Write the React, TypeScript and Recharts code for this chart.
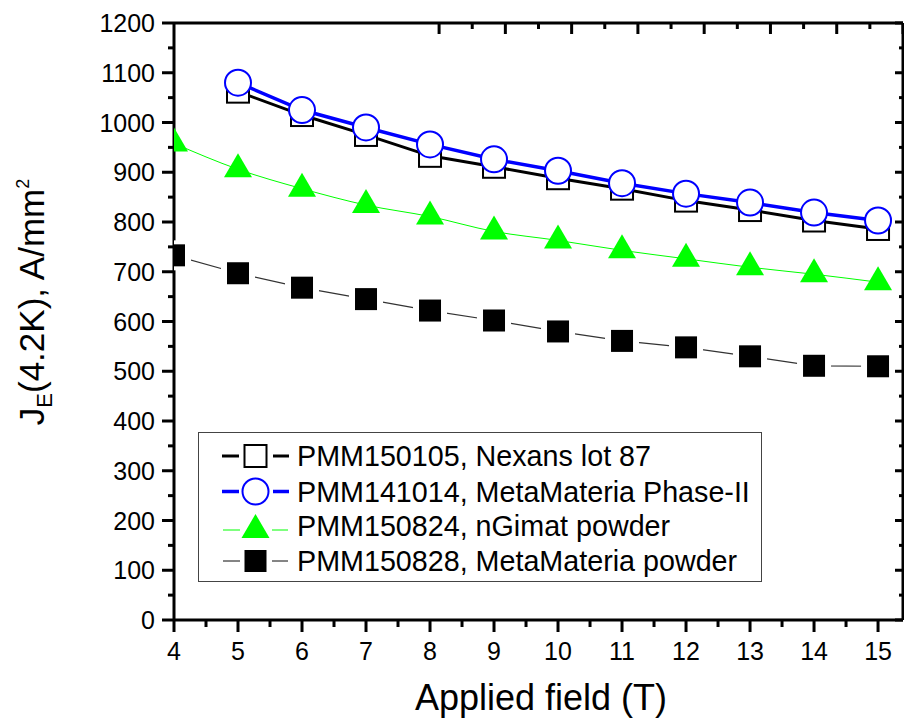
import React from 'react';
import { LineChart, Line, XAxis, YAxis, Legend } from 'recharts';

// ---- data ----
const fields = [4, 5, 6, 7, 8, 9, 10, 11, 12, 13, 14, 15];
const nexansLot87 = [null, 1062, 1015, 975, 933, 911, 888, 867, 843, 824, 803, 786];
const metaPhaseII = [null, 1080, 1025, 990, 956, 926, 903, 878, 857, 839, 819, 803];
const nGimatPowder = [958, 906, 867, 834, 811, 781, 763, 743, 726, 709, 695, 679];
const metaPowder = [733, 697, 668, 645, 622, 602, 580, 561, 548, 530, 511, 510];

const xMajorTicks = [4, 5, 6, 7, 8, 9, 10, 11, 12, 13, 14, 15];
const xMinorTicks = [4.5, 5.5, 6.5, 7.5, 8.5, 9.5, 10.5, 11.5, 12.5, 13.5, 14.5];
const yMajorTicks = [0, 100, 200, 300, 400, 500, 600, 700, 800, 900, 1000, 1100, 1200];
const yMinorTicks = [50, 150, 250, 350, 450, 550, 650, 750, 850, 950, 1050, 1150];

const seriesNames = [
  'PMM150105, Nexans lot 87',
  'PMM141014, MetaMateria Phase-II',
  'PMM150824, nGimat powder',
  'PMM150828, MetaMateria powder',
];

const xAxisTitle = 'Applied field (T)';
const X_MIN = 4;
const X_MAX = 15.39;

// layout constants
const CHART_W = 904;
const CHART_H = 719;
const LEFT_AXIS_W = 174;
const BOTTOM_AXIS_H = 99;
const TOP_MARGIN = 22;

const data = fields.map((f, i) => ({
  field: f,
  nexans: nexansLot87[i],
  phase2: metaPhaseII[i],
  ngimat: nGimatPowder[i],
  powder: metaPowder[i],
}));

const xTicks = [...xMajorTicks, ...xMinorTicks].sort((a, b) => a - b);
const yTicks = [...yMajorTicks, ...yMinorTicks].sort((a, b) => a - b);

const FONT = '"Liberation Sans", Arial, sans-serif';
const GREEN = '#00ff00';
const BLUE = '#0000ff';
const CLIP = 'url(#plotAreaClip)';

// ---- ticks ----
const BottomTick = (p: any) => {
  const { x, y, payload } = p;
  const v = payload.value;
  const major = xMajorTicks.includes(v);
  return (
    <g>
      <line x1={x} x2={x} y1={y} y2={y + (major ? 12 : 7)} stroke="#000" strokeWidth={3} />
      {major && (
        <text x={x} y={y + 40} textAnchor="middle" fontSize={25} fontFamily={FONT} fill="#000">
          {v}
        </text>
      )}
    </g>
  );
};

const TopTick = (p: any) => {
  const { x, y, payload } = p;
  const major = xMajorTicks.includes(payload.value);
  return <line x1={x} x2={x} y1={y} y2={y + (major ? 11 : 6)} stroke="#000" strokeWidth={3} />;
};

const LeftTick = (p: any) => {
  const { x, y, payload } = p;
  const v = payload.value;
  const major = yMajorTicks.includes(v);
  return (
    <g>
      <line x1={x} x2={x - (major ? 12 : 6)} y1={y} y2={y} stroke="#000" strokeWidth={3} />
      {major && (
        <text x={x - 19} y={y + 9} textAnchor="end" fontSize={25} fontFamily={FONT} fill="#000">
          {v}
        </text>
      )}
    </g>
  );
};

const RightTick = (p: any) => {
  const { x, y, payload } = p;
  const major = yMajorTicks.includes(payload.value);
  return <line x1={x} x2={x - (major ? 8 : 4)} y1={y} y2={y} stroke="#000" strokeWidth={3} />;
};

// ---- markers (clipped to the plot frame, like the original) ----
const OpenSquare = (p: any) => {
  if (p.cx == null || p.cy == null || p.value == null) return <g key={p.index} />;
  return (
    <g key={p.index} clipPath={CLIP}>
      <rect x={p.cx - 11} y={p.cy - 11} width={22} height={22} fill="#fff" stroke="#000" strokeWidth={2} />
    </g>
  );
};

const OpenCircle = (p: any) => {
  if (p.cx == null || p.cy == null || p.value == null) return <g key={p.index} />;
  return (
    <g key={p.index} clipPath={CLIP}>
      <circle cx={p.cx} cy={p.cy} r={13} fill="#fff" stroke={BLUE} strokeWidth={2} />
    </g>
  );
};

const Triangle = (p: any) => {
  if (p.cx == null || p.cy == null) return <g key={p.index} />;
  const { cx, cy } = p;
  return (
    <g key={p.index} clipPath={CLIP}>
      <path d={`M${cx},${cy - 16} L${cx + 14},${cy + 8} L${cx - 14},${cy + 8} Z`} fill={GREEN} />
    </g>
  );
};

const FilledSquare = (p: any) => {
  if (p.cx == null || p.cy == null) return <g key={p.index} />;
  const { cx, cy } = p;
  return (
    <g key={p.index} clipPath={CLIP}>
      <rect x={cx - 17} y={cy - 15} width={34} height={30} fill="#fff" />
      <rect x={cx - 11} y={cy - 11} width={22} height={22} fill="#000" />
    </g>
  );
};

// ---- titles ----
const YTitle = () => (
  <g>
    <defs>
      <clipPath id="plotAreaClip">
        <rect x={LEFT_AXIS_W} y={0} width={CHART_W - LEFT_AXIS_W} height={CHART_H - BOTTOM_AXIS_H} />
      </clipPath>
    </defs>
    <text
      x={44}
      y={302}
      transform="rotate(-90, 44, 302)"
      textAnchor="middle"
      fontSize={35}
      fontFamily={FONT}
      fill="#000"
    >
      J
      <tspan fontSize={22} dy={8}>E</tspan>
      <tspan dy={-8}>(4.2K), A/mm</tspan>
      <tspan fontSize={18} dy={-15}>2</tspan>
    </text>
  </g>
);

const XTitle = () => (
  <text x={541} y={710} textAnchor="middle" fontSize={36} fontFamily={FONT} fill="#000">
    {xAxisTitle}
  </text>
);

// ---- legend ----
const LegendBox = () => {
  const rows = [455, 490.5, 525, 560].map((v) => v - 432);
  const cx = 56.5;
  return (
    <div
      style={{
        width: 564,
        height: 150,
        border: '1.5px solid #444',
        boxSizing: 'border-box',
        background: '#fff',
      }}
    >
      <svg width={562} height={147} style={{ display: 'block' }}>
        {/* row 1 */}
        <line x1={23} x2={40} y1={rows[0]} y2={rows[0]} stroke="#000" strokeWidth={3} />
        <line x1={74} x2={90} y1={rows[0]} y2={rows[0]} stroke="#000" strokeWidth={3} />
        <rect x={cx - 11} y={rows[0] - 11} width={22} height={22} fill="#fff" stroke="#000" strokeWidth={2} />
        {/* row 2 */}
        <line x1={23} x2={40} y1={rows[1]} y2={rows[1]} stroke={BLUE} strokeWidth={3.5} />
        <line x1={74} x2={90} y1={rows[1]} y2={rows[1]} stroke={BLUE} strokeWidth={3.5} />
        <circle cx={cx} cy={rows[1]} r={13} fill="#fff" stroke={BLUE} strokeWidth={2} />
        {/* row 3 */}
        <line x1={24} x2={41} y1={rows[2] + 4} y2={rows[2] + 4} stroke={GREEN} strokeWidth={1} />
        <line x1={73} x2={89} y1={rows[2] + 4} y2={rows[2] + 4} stroke={GREEN} strokeWidth={1} />
        <path d={`M${cx},${rows[2] - 12} L${cx + 14},${rows[2] + 12} L${cx - 14},${rows[2] + 12} Z`} fill={GREEN} />
        {/* row 4 */}
        <line x1={24} x2={41} y1={rows[3]} y2={rows[3]} stroke="#333" strokeWidth={1.2} />
        <line x1={73} x2={89} y1={rows[3]} y2={rows[3]} stroke="#333" strokeWidth={1.2} />
        <rect x={cx - 11} y={rows[3] - 11} width={22} height={22} fill="#000" />
        {seriesNames.map((name, i) => (
          <text key={name} x={98} y={rows[i] + 10} fontSize={28.7} fontFamily={FONT} fill="#000">
            {name}
          </text>
        ))}
      </svg>
    </div>
  );
};

export default function App() {
  return (
    <div style={{ position: 'absolute', left: 0, top: 0, width: CHART_W, height: CHART_H, background: '#fff' }}>
      <LineChart width={CHART_W} height={CHART_H} data={data} margin={{ top: TOP_MARGIN, right: 0, bottom: 0, left: 0 }}>
        <XAxis
          xAxisId="b"
          dataKey="field"
          type="number"
          domain={[X_MIN, X_MAX]}
          ticks={xTicks}
          interval={0}
          allowDataOverflow
          height={BOTTOM_AXIS_H}
          tickSize={0}
          tickMargin={0}
          tickLine={false}
          axisLine={{ stroke: '#000', strokeWidth: 3 }}
          tick={<BottomTick />}
          label={<XTitle />}
        />
        <XAxis
          xAxisId="t"
          orientation="top"
          type="number"
          domain={[X_MIN, X_MAX]}
          ticks={xTicks}
          interval={0}
          allowDataOverflow
          height={1}
          tickSize={0}
          tickMargin={0}
          tickLine={false}
          axisLine={{ stroke: '#000', strokeWidth: 3 }}
          tick={<TopTick />}
        />
        <YAxis
          yAxisId="l"
          type="number"
          domain={[0, 1200]}
          ticks={yTicks}
          interval={0}
          allowDataOverflow
          width={LEFT_AXIS_W}
          tickSize={0}
          tickMargin={0}
          tickLine={false}
          axisLine={{ stroke: '#000', strokeWidth: 3 }}
          tick={<LeftTick />}
          label={<YTitle />}
        />
        <YAxis
          yAxisId="r"
          orientation="right"
          type="number"
          domain={[0, 1200]}
          ticks={yTicks}
          interval={0}
          allowDataOverflow
          width={1}
          tickSize={0}
          tickMargin={0}
          tickLine={false}
          axisLine={{ stroke: '#000', strokeWidth: 3 }}
          tick={<RightTick />}
        />
        <Line
          xAxisId="b"
          yAxisId="l"
          type="linear"
          dataKey="powder"
          stroke="#333"
          strokeWidth={1.2}
          dot={FilledSquare}
          activeDot={false}
          isAnimationActive={false}
        />
        <Line
          xAxisId="b"
          yAxisId="l"
          type="monotone"
          dataKey="ngimat"
          stroke={GREEN}
          strokeWidth={1}
          dot={Triangle}
          activeDot={false}
          isAnimationActive={false}
        />
        <Line
          xAxisId="b"
          yAxisId="l"
          type="linear"
          dataKey="nexans"
          stroke="#000"
          strokeWidth={3}
          dot={OpenSquare}
          activeDot={false}
          isAnimationActive={false}
        />
        <Line
          xAxisId="b"
          yAxisId="l"
          type="linear"
          dataKey="phase2"
          stroke={BLUE}
          strokeWidth={3.5}
          dot={OpenCircle}
          activeDot={false}
          isAnimationActive={false}
        />
        <Legend
          layout="vertical"
          align="center"
          verticalAlign="middle"
          wrapperStyle={{ position: 'absolute', left: 198, top: 432, width: 564, height: 150 }}
          content={() => <LegendBox />}
        />
      </LineChart>
    </div>
  );
}
